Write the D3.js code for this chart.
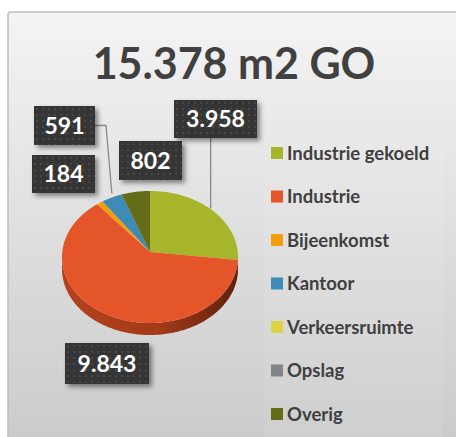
<!DOCTYPE html>
<html>
<head>
<meta charset="utf-8">
<script src="https://cdn.jsdelivr.net/npm/d3@7"></script>
<style>
  body { margin:0; background:#fff; }
  text { font-family: Lato, "Open Sans", sans-serif; }
</style>
</head>
<body>
<svg id="chart"></svg>
<script>
var categories = ["Industrie gekoeld","Industrie","Bijeenkomst","Kantoor","Verkeersruimte","Opslag","Overig"];
var values = [3958, 9843, 184, 591, 0, 0, 802];
var labels = ["3.958","9.843","184","591","","","802"];
var colorList = ["#a7b52b","#e5552a","#f59d0a","#3f8bb7","#dbd443","#858585","#646c17"];
var title = "15.378 m2 GO";

var w = 456, h = 437;
var svg = d3.select("#chart").attr("width", w).attr("height", h);

var defs = svg.append("defs");
var bg = defs.append("linearGradient").attr("id","bg").attr("x1",0).attr("y1",0).attr("x2",0).attr("y2",1);
bg.append("stop").attr("offset","0%").attr("stop-color","#f4f4f4");
bg.append("stop").attr("offset","100%").attr("stop-color","#cacaca");

var side = defs.append("linearGradient").attr("id","side").attr("x1",0).attr("y1",0).attr("x2",1).attr("y2",0);
side.append("stop").attr("offset","0%").attr("stop-color","#b8411c");
side.append("stop").attr("offset","55%").attr("stop-color","#a33a18");
side.append("stop").attr("offset","100%").attr("stop-color","#5e200c");

var dots = defs.append("pattern").attr("id","dots").attr("width",6).attr("height",6)
  .attr("patternUnits","userSpaceOnUse");
dots.append("rect").attr("width",6).attr("height",6).attr("fill","#353535");
dots.append("circle").attr("cx",3).attr("cy",3).attr("r",1).attr("fill","#4d4d4d");

var shadow = defs.append("filter").attr("id","shadow").attr("x","-20%").attr("y","-20%").attr("width","150%").attr("height","160%");
shadow.append("feDropShadow").attr("dx",3).attr("dy",3).attr("stdDeviation",2.5)
  .attr("flood-color","#000").attr("flood-opacity",0.45);

// panel
svg.append("rect").attr("x",8).attr("y",12).attr("width",w).attr("height",h)
   .attr("rx",3).attr("fill","url(#bg)").attr("stroke","#bdbdbd").attr("stroke-width",1.5);

// legend panel
svg.append("rect").attr("x",264).attr("y",131).attr("width",179).attr("height",306)
   .attr("fill","#ffffff").attr("fill-opacity",0.08);

svg.append("text").attr("x",234).attr("y",79).attr("text-anchor","middle")
   .attr("font-size",43).attr("font-weight","bold").attr("fill","#404040").text(title);

// pie
var cx = 150, cy = 257, rx = 88, ry = 66, apexY = 252, depth = 12;
var color = d3.scaleOrdinal().domain(categories).range(colorList);
var pie = d3.pie().sort(null).value(function(d){ return d.v; });
var data = categories.map(function(c,i){ return {name:c, v:values[i], label:labels[i]}; });
var arcs = pie(data);

function px(a){ return cx + rx*Math.sin(a); }
function py(a){ return cy - ry*Math.cos(a); }
function arcPts(a0, a1){
  var n = Math.max(2, Math.ceil((a1-a0)/0.02));
  var s = "";
  for (var k=0;k<=n;k++){
    var a = a0 + (a1-a0)*k/n;
    s += "L" + px(a) + "," + py(a);
  }
  return s;
}

var plot = svg.append("g").classed("plot",true);

// side walls (front half)
arcs.forEach(function(d){
  var b0 = Math.max(d.startAngle, Math.PI/2), b1 = Math.min(d.endAngle, 3*Math.PI/2);
  if (b1 <= b0) return;
  var path = "M" + px(b0) + "," + py(b0) + arcPts(b0,b1);
  var back = "";
  var n = Math.max(2, Math.ceil((b1-b0)/0.02));
  for (var k=n;k>=0;k--){ var a=b0+(b1-b0)*k/n; back += "L"+px(a)+","+(py(a)+depth); }
  plot.append("path").attr("d", path + back + "Z")
      .attr("fill", d.data.name==="Industrie" ? "url(#side)" : d3.color(color(d.data.name)).darker(1.2));
});

// top faces
plot.selectAll("path.slice").data(arcs.filter(function(d){ return d.value>0; })).enter()
  .append("path").classed("slice",true)
  .attr("d", function(d){
    return "M"+cx+","+apexY+"L"+px(d.startAngle)+","+py(d.startAngle)+arcPts(d.startAngle,d.endAngle)+"Z";
  })
  .attr("fill", function(d){ return color(d.data.name); });

// data labels
var boxes = {
  "Industrie gekoeld": {x:174, y:100, w:83, h:38, lead:"v"},
  "Industrie": {x:65, y:343, w:84, h:41},
  "Bijeenkomst": {x:32, y:155, w:63, h:38},
  "Kantoor": {x:34, y:106, w:61, h:39, lead:"h"},
  "Overig": {x:119, y:141, w:63, h:39}
};
arcs.forEach(function(d){
  var b = boxes[d.data.name];
  if (!b) return;
  var mid = (d.startAngle+d.endAngle)/2;
  var ex = px(mid), ey = py(mid);
  if (b.lead === "v") {
    plot.append("path").attr("d","M"+(ex-3)+","+(b.y+b.h)+"L"+(ex-3)+","+(ey-3))
        .attr("stroke","#8a8a8a").attr("stroke-width",1.3).attr("fill","none");
  } else if (b.lead === "h") {
    plot.append("path").attr("d","M"+(b.x+b.w)+","+(b.y+b.h/2)+"L"+(b.x+b.w+11)+","+(b.y+b.h/2)+"L"+ex+","+(ey-4))
        .attr("stroke","#8a8a8a").attr("stroke-width",1.3).attr("fill","none");
  }
  var g = svg.append("g").attr("transform","translate("+b.x+","+b.y+")");
  g.append("rect").attr("width",b.w).attr("height",b.h).attr("fill","url(#dots)").attr("filter","url(#shadow)");
  g.append("text").attr("x",b.w/2).attr("y",b.h/2+8).attr("text-anchor","middle")
   .attr("font-size",23).attr("font-weight","bold").attr("fill","#fff").text(d.data.label);
});

// legend
var legend = svg.append("g").classed("legend",true).attr("transform","translate(271,147)");
var rows = legend.selectAll("g").data(categories).enter().append("g")
  .attr("transform", function(d,i){ return "translate(0,"+(43.5*i)+")"; });
rows.append("rect").attr("width",12).attr("height",12).attr("fill", function(d){ return color(d); });
rows.append("text").attr("x",16).attr("y",12.5).attr("font-size",18.5).attr("font-weight","bold")
  .attr("fill","#404040").text(function(d){ return d; });
</script>
</body>
</html>
